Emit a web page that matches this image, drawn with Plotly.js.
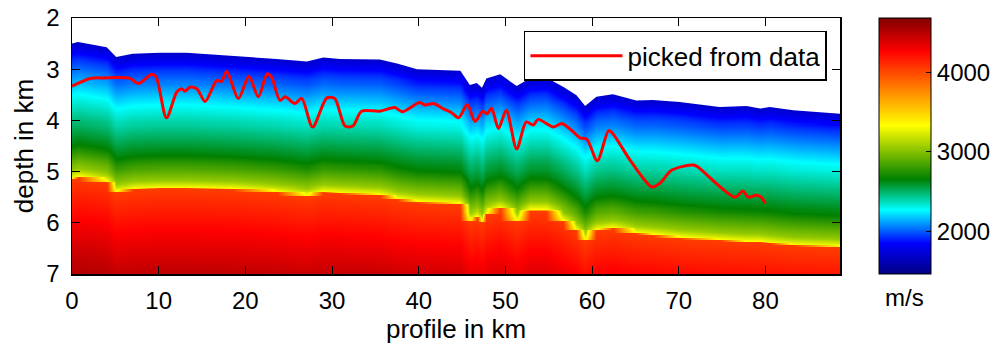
<!DOCTYPE html>
<html>
<head>
<meta charset="utf-8">
<script src="https://cdn.plot.ly/plotly-3.0.1.min.js"></script>
<style>html,body{margin:0;padding:0;background:#fff;}#chart{width:1002px;height:347px;}</style>
</head>
<body>
<div id="chart"></div>
<script>
// ---- data ----
// profile positions (km) where the seafloor and basement top were read
const profileKm = [0, 0.7, 4.0, 5.1, 7.0, 10.1, 13.2, 18.6, 23.6, 27.1, 29.0, 30.9, 35.5, 37.5, 39.8, 44.8, 45.9, 46.7, 47.3, 47.8, 49.4, 51.3, 52.8, 54.7, 56.7, 58.2, 59.2, 60.5, 62.4, 65.1, 67.0, 70.1, 74.7, 77.8, 79.4, 80.5, 83.2, 88.6];
const seafloorDepth = [2.50, 2.47, 2.57, 2.76, 2.70, 2.68, 2.68, 2.74, 2.80, 2.85, 2.77, 2.80, 2.81, 2.89, 3.00, 3.03, 3.31, 3.27, 3.36, 3.18, 3.10, 3.33, 3.18, 3.16, 3.35, 3.51, 3.72, 3.54, 3.49, 3.61, 3.60, 3.64, 3.74, 3.72, 3.77, 3.74, 3.80, 3.87];
const basementDepth = [5.13, 5.09, 5.19, 5.40, 5.34, 5.32, 5.32, 5.34, 5.40, 5.48, 5.40, 5.42, 5.46, 5.54, 5.59, 5.63, 5.95, 5.87, 5.98, 5.82, 5.72, 5.95, 5.75, 5.75, 5.95, 6.14, 6.34, 6.14, 6.10, 6.20, 6.23, 6.29, 6.34, 6.37, 6.37, 6.40, 6.44, 6.47];

// sediment velocity (m/s) vs fraction of the way from seafloor to basement
const sedFraction = [0, 0.12, 0.38, 0.76, 0.94, 0.99, 1.0];
const sedVelocity = [1700, 1930, 2270, 2660, 3050, 3300, 3350];
// basement velocity (m/s) vs depth below basement top (km)
const baseBelowKm = [0, 0.8, 1.6, 2.0];
const baseVelocity = [4040, 4260, 4460, 4530];

// picked reflector
const pickKm = [0, 2.1, 3.6, 6.7, 7.65, 9.2, 9.7, 10.9, 12.1, 12.65, 13.05, 13.6, 14.4, 15.35, 16.7, 17.25, 17.85, 19.2, 20.4, 21.5, 22.5, 23.0, 24.0, 24.6, 25.7, 26.5, 27.75, 29.4, 30.3, 31.5, 32.4, 33.4, 35.5, 37.25, 38.1, 40.1, 40.7, 41.7, 42.8, 43.8, 44.6, 45.6, 46.5, 47.4, 47.9, 48.4, 49.2, 50.1, 51.3, 52.4, 53.2, 53.8, 55.5, 56.5, 57.8, 58.6, 59.4, 60.6, 61.9, 62.4, 64.4, 66.9, 67.8, 69.2, 71.7, 72.2, 76.5, 77.4, 78.0, 79.0, 79.5, 80.0];
const pickDepth = [3.33, 3.18, 3.17, 3.18, 3.28, 3.10, 3.15, 3.95, 3.44, 3.38, 3.43, 3.35, 3.38, 3.63, 3.22, 3.24, 3.04, 3.57, 3.14, 3.54, 3.09, 3.15, 3.61, 3.54, 3.67, 3.57, 4.13, 3.56, 3.57, 4.11, 4.11, 3.82, 3.82, 3.75, 3.83, 3.65, 3.70, 3.67, 3.77, 3.85, 3.95, 3.69, 4.02, 3.82, 3.87, 3.76, 4.16, 3.80, 4.56, 4.03, 4.09, 3.98, 4.13, 4.06, 4.22, 4.34, 4.37, 4.79, 4.20, 4.26, 4.78, 5.30, 5.23, 4.97, 4.87, 4.91, 5.50, 5.38, 5.50, 5.46, 5.50, 5.62];

const xTicks = [0, 10, 20, 30, 40, 50, 60, 70, 80];
const yTicks = [2, 3, 4, 5, 6, 7];
const cbTicks = [2000, 3000, 4000];
const velRange = [1470, 4680];

// ---- build the velocity table from the arrays ----
function lookup(xs, ys, v) {
  if (v <= xs[0]) return ys[0];
  for (let i = 1; i < xs.length; i++) {
    if (v <= xs[i]) { const t = (v - xs[i-1]) / (xs[i] - xs[i-1]); return ys[i-1] + t * (ys[i] - ys[i-1]); }
  }
  return ys[ys.length - 1];
}
const depthGrid = [];
for (let k = 0; k <= 250; k++) depthGrid.push(2 + k * 0.02);
const zTable = depthGrid.map(d => profileKm.map((_, j) => {
  const sf = seafloorDepth[j], bs = basementDepth[j];
  if (d < bs) return lookup(sedFraction, sedVelocity, (d - sf) / (bs - sf));
  return lookup(baseBelowKm, baseVelocity, d - bs);
}));

const FONT = 'Liberation Sans, Arial, sans-serif';
const colorscale = [
  [0, 'rgb(0,0,130)'], [0.12, 'rgb(0,0,255)'], [0.25, 'rgb(0,255,255)'],
  [0.37, 'rgb(0,128,0)'], [0.58, 'rgb(255,255,0)'], [0.87, 'rgb(255,0,0)'], [1, 'rgb(128,0,0)']
];

const traces = [
  {
    type: 'heatmap', x: profileKm, y: depthGrid, z: zTable,
    zmin: velRange[0], zmax: velRange[1], colorscale: colorscale, zsmooth: 'best',
    hoverinfo: 'skip', showlegend: false,
    colorbar: {
      x: 1.0508, xanchor: 'left', y: 0.5, yanchor: 'middle', len: 1, lenmode: 'fraction',
      thickness: 52, thicknessmode: 'pixels', xpad: 0, ypad: 0,
      outlinewidth: 1, outlinecolor: '#000',
      tickvals: cbTicks, ticks: 'inside', ticklen: 5, tickcolor: '#000',
      tickfont: {family: FONT, size: 24, color: '#000'}
    }
  },
  {
    type: 'scatter', mode: 'lines', x: profileKm, y: seafloorDepth,
    fill: 'tozeroy', fillcolor: '#ffffff', line: {width: 0, color: '#ffffff'},
    hoverinfo: 'skip', showlegend: false
  },
  {
    type: 'scatter', mode: 'lines', x: pickKm, y: pickDepth, name: 'picked from data',
    line: {color: '#ff0000', width: 3, shape: 'spline', smoothing: 0.8}
  }
];

const layout = {
  width: 1002, height: 347,
  margin: {l: 72, r: 162, t: 18, b: 73, autoexpand: false},
  paper_bgcolor: '#fff', plot_bgcolor: '#fff',
  font: {family: FONT, size: 24, color: '#000'},
  showlegend: true,
  legend: {
    x: 0.983, xanchor: 'right', y: 0.95, yanchor: 'top',
    bgcolor: '#fff', bordercolor: '#000', borderwidth: 1.5,
    font: {family: FONT, size: 26, color: '#000'}, itemwidth: 92, tracegroupgap: 0
  },
  xaxis: {
    range: [0, 88.6], tickvals: xTicks, ticks: 'inside', ticklen: 8, tickcolor: '#000',
    showline: true, linecolor: '#000', linewidth: 1.5, mirror: 'allticks',
    showgrid: false, zeroline: false, ticklabelstandoff: 5,
    tickfont: {family: FONT, size: 24, color: '#000'},
    title: {text: 'profile in km', font: {family: FONT, size: 26, color: '#000'}, standoff: 0}
  },
  yaxis: {
    range: [7, 2], tickvals: yTicks, ticks: 'inside', ticklen: 8, tickcolor: '#000',
    showline: true, linecolor: '#000', linewidth: 1.5, mirror: 'allticks',
    showgrid: false, zeroline: false, ticklabelstandoff: 6,
    tickfont: {family: FONT, size: 24, color: '#000'},
    title: {text: 'depth in km', font: {family: FONT, size: 26, color: '#000'}, standoff: 5}
  },
  annotations: [{
    text: 'm/s', xref: 'paper', yref: 'paper', x: 1.0846, y: -0.09,
    xanchor: 'center', yanchor: 'middle', showarrow: false,
    font: {family: FONT, size: 24, color: '#000'}
  }]
};

Plotly.newPlot('chart', traces, layout, {displayModeBar: false, staticPlot: true});
</script>
</body>
</html>
